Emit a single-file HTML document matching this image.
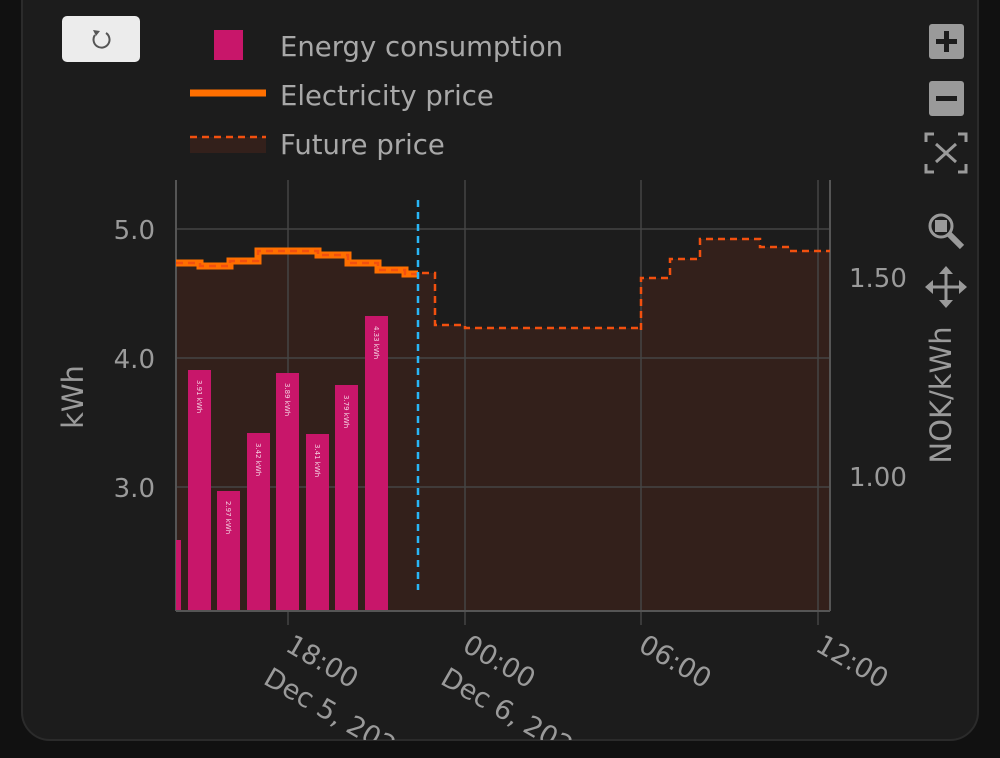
<!DOCTYPE html>
<html><head><meta charset="utf-8"><style>
html,body{margin:0;padding:0;background:#111;width:1000px;height:758px;overflow:hidden}
svg{display:block;font-family:"DejaVu Sans","Liberation Sans",sans-serif}
</style></head><body>
<svg width="1000" height="758" viewBox="0 0 1000 758">
<defs><clipPath id="cc"><rect x="22" y="-40" width="956" height="780" rx="28"/></clipPath></defs>
<rect x="0" y="0" width="1000" height="758" fill="#111"/>
<rect x="22" y="-40" width="956" height="780" rx="28" fill="#1c1c1c" stroke="#2b2b2b" stroke-width="2"/>
<g clip-path="url(#cc)">
<path d="M176,263 H200 V266 H230 V261 H258 V251 H318 V255 H348 V263 H378 V270 H405 V274 H418 V273 H435 V325 H465 V328 H640 V330 H641 V278 H670 V259 H700 V239 H760 V247 H790 V251 H830 V610 H176 Z" fill="#33201b"/>
<g stroke="#444" stroke-width="1.5">
<line x1="176" y1="229" x2="830" y2="229"/><line x1="176" y1="358" x2="830" y2="358"/><line x1="176" y1="487" x2="830" y2="487"/>
<line x1="288" y1="180" x2="288" y2="625"/><line x1="465" y1="180" x2="465" y2="625"/><line x1="641" y1="180" x2="641" y2="625"/><line x1="818" y1="180" x2="818" y2="625"/>
</g>
<g stroke="#555" stroke-width="2"><line x1="176" y1="180" x2="176" y2="611"/><line x1="176" y1="611" x2="830" y2="611"/><line x1="830" y1="180" x2="830" y2="611"/></g>
<g fill="#c8166a">
<rect x="176" y="540" width="5" height="70"/>
<rect x="188" y="370" width="23" height="240"/>
<rect x="217" y="491" width="23" height="119"/>
<rect x="247" y="433" width="23" height="177"/>
<rect x="276" y="373" width="23" height="237"/>
<rect x="306" y="434" width="23" height="176"/>
<rect x="335" y="385" width="23" height="225"/>
<rect x="365" y="316" width="23" height="294"/>
</g>
<g fill="#f3d0e0" font-size="7">
<text transform="translate(197,380) rotate(90)">3.91 kWh</text>
<text transform="translate(226,501) rotate(90)">2.97 kWh</text>
<text transform="translate(256,443) rotate(90)">3.42 kWh</text>
<text transform="translate(285,383) rotate(90)">3.89 kWh</text>
<text transform="translate(315,444) rotate(90)">3.41 kWh</text>
<text transform="translate(344,395) rotate(90)">3.79 kWh</text>
<text transform="translate(374,326) rotate(90)">4.33 kWh</text>
</g>
<path d="M176,263 H200 V266 H230 V261 H258 V251 H318 V255 H348 V263 H378 V270 H405 V274 H418" fill="none" stroke="#ff6f00" stroke-width="7"/>
<path d="M176,263 H200 V266 H230 V261 H258 V251 H318 V255 H348 V263 H378 V270 H405 V274 H418 V273 H435 V325 H465 V328 H640 V330 H641 V278 H670 V259 H700 V239 H760 V247 H790 V251 H830" fill="none" stroke="#f2500f" stroke-width="2.5" stroke-dasharray="7,5"/>
<line x1="418" y1="200" x2="418" y2="590" stroke="#29b6f6" stroke-width="2.5" stroke-dasharray="7,5"/>
<g fill="#9a9a9a" font-size="26">
<text x="155" y="239" text-anchor="end">5.0</text>
<text x="155" y="368" text-anchor="end">4.0</text>
<text x="155" y="497" text-anchor="end">3.0</text>
<text x="849" y="287">1.50</text>
<text x="849" y="486">1.00</text>
<text transform="translate(83,397) rotate(-90)" text-anchor="middle" font-size="29">kWh</text>
<text transform="translate(951,395) rotate(-90)" text-anchor="middle" font-size="29">NOK/kWh</text>
<text transform="translate(284,650) rotate(30)" font-size="27">18:00</text>
<text transform="translate(262,683) rotate(30)" font-size="27">Dec 5, 2023</text>
<text transform="translate(461,650) rotate(30)" font-size="27">00:00</text>
<text transform="translate(439,683) rotate(30)" font-size="27">Dec 6, 2023</text>
<text transform="translate(637,650) rotate(30)" font-size="27">06:00</text>
<text transform="translate(814,650) rotate(30)" font-size="27">12:00</text>
</g>
</g>
<rect x="62" y="16" width="78" height="46" rx="5" fill="#ececec"/>
<path d="M106,33 A8,8 0 1 1 95,35" fill="none" stroke="#555" stroke-width="2"/>
<path d="M93,30 L96,36 L100,31 Z" fill="#555"/>
<rect x="214" y="30" width="29" height="30" fill="#c8166a"/>
<line x1="190" y1="93" x2="266" y2="93" stroke="#ff6f00" stroke-width="7"/>
<rect x="190" y="137" width="76" height="16" fill="#33201b"/>
<line x1="190" y1="137" x2="266" y2="137" stroke="#f2500f" stroke-width="2.5" stroke-dasharray="7,5"/>
<g fill="#a8a8a8" font-size="27.5">
<text x="280" y="56">Energy consumption</text>
<text x="280" y="105">Electricity price</text>
<text x="280" y="154">Future price</text>
</g>
<g fill="#9a9a9a">
<rect x="929" y="24" width="35" height="35" rx="3"/>
<rect x="929" y="81" width="35" height="35" rx="3"/>
</g>
<g fill="#1c1c1c"><rect x="936" y="39" width="21" height="5"/><rect x="944" y="31" width="5" height="21"/><rect x="936" y="96" width="21" height="5"/></g>
<g stroke="#9a9a9a" stroke-width="3" fill="none">
<path d="M926,142 V134 H934 M958,134 H966 V142 M966,164 V172 H958 M934,172 H926 V164"/>
<path d="M936,144 L956,162 M956,144 L936,162"/>
<circle cx="941" cy="226" r="11"/>
<path d="M949,234 L962,247" stroke-width="6"/>
<path d="M946,270 V304 M929,287 H963"/>
</g>
<g fill="#9a9a9a"><rect x="935" y="220" width="12" height="12"/>
<path d="M946,266 L939,274 H953 Z M946,308 L939,300 H953 Z M925,287 L933,280 V294 Z M967,287 L959,280 V294 Z"/></g>
</svg>
</body></html>
